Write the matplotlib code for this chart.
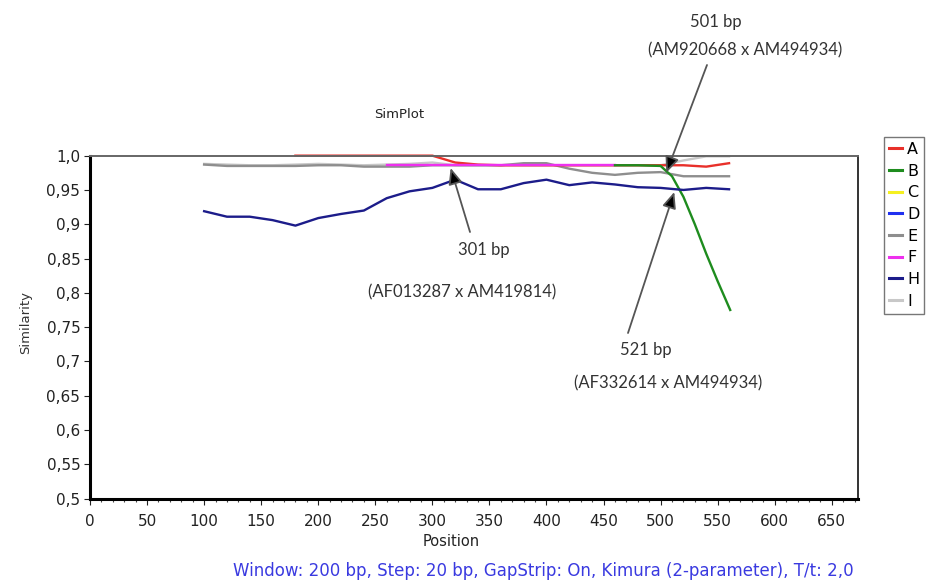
import matplotlib.pyplot as plt
import numpy as np
from matplotlib.lines import Line2D
from matplotlib.ticker import MultipleLocator

# Window centres (bp)
positions = [100, 120, 140, 160, 180, 200, 220, 240, 260, 280, 300, 320,
             340, 360, 380, 400, 420, 440, 460, 480, 500, 520, 540, 560]

nan = np.nan
sim_A = [nan, nan, nan, nan, 1.0, 1.0, 1.0, 1.0, 1.0, 1.0, 1.0, 0.990,
         0.987, 0.986, 0.986, 0.986, 0.986, 0.986, 0.986, 0.986, 0.986, 0.986, 0.984, 0.989]
sim_E = [0.987, 0.985, 0.985, 0.985, 0.985, 0.986, 0.986, 0.984, 0.984, 0.984, 0.986, 0.986,
         0.986, 0.986, 0.989, 0.989, 0.981, 0.975, 0.972, 0.975, 0.976, 0.970, 0.970, 0.970]
sim_F = [nan, nan, nan, nan, nan, nan, nan, nan, 0.986, 0.986, 0.986, 0.986,
         0.986, 0.986, 0.986, 0.986, 0.986, 0.986, 0.986, nan, nan, nan, nan, nan]
sim_H = [0.919, 0.911, 0.911, 0.906, 0.898, 0.909, 0.915, 0.920, 0.938, 0.948, 0.953, 0.965,
         0.951, 0.951, 0.960, 0.965, 0.957, 0.961, 0.958, 0.954, 0.953, 0.950, 0.953, 0.951]
sim_I = [0.988, 0.987, 0.986, 0.986, 0.987, 0.988, 0.987, 0.986, 0.987, 0.988, 0.990, 0.986,
         0.986, 0.986, 0.986, 0.986, 0.986, 0.986, 0.986, 0.986, 0.986, 0.993, 0.999, 0.999]

# B only leaves the others near the end
pos_B = [460, 480, 500, 510, 520, 530, 540, 550, 561]
sim_B = [0.986, 0.986, 0.985, 0.970, 0.940, 0.900, 0.857, 0.817, 0.775]

legend_labels = ["A", "B", "C", "D", "E", "F", "H", "I"]
colors = {"A": "#e8302a", "B": "#1e8c1e", "C": "#f5f020", "D": "#2030f0",
          "E": "#8e8e8e", "F": "#ee30ee", "H": "#1c1c8a", "I": "#c8c8c8"}

ytick_vals = [0.5, 0.55, 0.6, 0.65, 0.7, 0.75, 0.8, 0.85, 0.9, 0.95, 1.0]
ytick_labels = ["0,5", "0,55", "0,6", "0,65", "0,7", "0,75", "0,8", "0,85", "0,9", "0,95", "1,0"]

plt.rcParams["font.family"] = ["DejaVu Sans"]

fig = plt.figure(figsize=(9.32, 5.83), dpi=100)
ax = fig.add_axes([0.0966, 0.1448, 0.824, 0.5882])

lw = 1.7
ax.plot(positions, sim_I, color=colors["I"], lw=lw, clip_on=False)
ax.plot(positions, sim_E, color=colors["E"], lw=lw, clip_on=False)
ax.plot(positions, sim_A, color=colors["A"], lw=lw, clip_on=False)
ax.plot(positions, sim_F, color=colors["F"], lw=lw, clip_on=False)
ax.plot(pos_B, sim_B, color=colors["B"], lw=lw, clip_on=False)
ax.plot(positions, sim_H, color=colors["H"], lw=lw, clip_on=False)

ax.set_xlim(0, 673)
ax.set_ylim(0.5, 1.0)
ax.xaxis.set_major_locator(MultipleLocator(50))
ax.xaxis.set_minor_locator(MultipleLocator(10))
ax.set_yticks(ytick_vals)
ax.set_yticklabels(ytick_labels)
ax.tick_params(axis="both", labelsize=11, colors="#222222", length=4, width=0.8)
ax.tick_params(axis="x", which="minor", length=2, width=0.8, color="#444444")
ax.tick_params(axis="x", pad=7)
ax.tick_params(axis="y", pad=3)

for side in ["left", "bottom"]:
    ax.spines[side].set_linewidth(2.2)
    ax.spines[side].set_color("black")
ax.spines["top"].set_linewidth(1.4)
ax.spines["top"].set_color("#666666")
ax.spines["right"].set_linewidth(1.4)
ax.spines["right"].set_color("#333333")

fig.text(451 / 932, 1 - 542 / 583, "Position", fontsize=10.5, ha="center", va="center",
         color="#222222")
fig.text(26 / 932, 1 - 322 / 583, "Similarity", rotation=90, fontsize=9.5,
         ha="center", va="center", color="#333333")
fig.text(399 / 932, 1 - 115 / 583, "SimPlot", fontsize=9.5, ha="center", va="center",
         color="#222222")
fig.text(543 / 932, 1 - 571 / 583,
         "Window: 200 bp, Step: 20 bp, GapStrip: On, Kimura (2-parameter), T/t: 2,0",
         fontsize=12, color="#3a3ae0", ha="center", va="center")

# Legend box on the right
handles = [Line2D([], [], color=colors[k], lw=2.2) for k in legend_labels]
fig.legend(handles, legend_labels, loc="upper left",
           bbox_to_anchor=(884 / 932, 1 - 137 / 583), fontsize=11.5,
           handlelength=0.8, handletextpad=0.35, labelspacing=0.42,
           borderpad=0.3, borderaxespad=0, frameon=True, fancybox=False,
           edgecolor="#555555")

# Recombination breakpoint notes
note_font = dict(fontsize=12, color="#333333", ha="center", va="center",
                 family=["Lato", "DejaVu Sans"])
fig.text(716 / 932, 1 - 22 / 583, "501 bp", **note_font)
fig.text(745 / 932, 1 - 50 / 583, "(AM920668 x AM494934)", **note_font)
fig.text(484 / 932, 1 - 250 / 583, "301 bp", **note_font)
fig.text(462 / 932, 1 - 292 / 583, "(AF013287 x AM419814)", **note_font)
fig.text(646 / 932, 1 - 350 / 583, "521 bp", **note_font)
fig.text(668 / 932, 1 - 383 / 583, "(AF332614 x AM494934)", **note_font)

arrow = dict(arrowstyle="-|>,head_length=0.7,head_width=0.3", edgecolor="#555555",
             facecolor="black", lw=1.3, shrinkA=0, shrinkB=0, mutation_scale=14)
ax.annotate("", xy=(505, 0.975), xytext=(707 / 932, 1 - 65 / 583),
            textcoords="figure fraction", arrowprops=arrow, annotation_clip=False)
ax.annotate("", xy=(316, 0.982), xytext=(470 / 932, 1 - 232 / 583),
            textcoords="figure fraction", arrowprops=arrow, annotation_clip=False)
ax.annotate("", xy=(512, 0.947), xytext=(628 / 932, 1 - 333 / 583),
            textcoords="figure fraction", arrowprops=arrow, annotation_clip=False)

fig.savefig("out.png", dpi=100)
